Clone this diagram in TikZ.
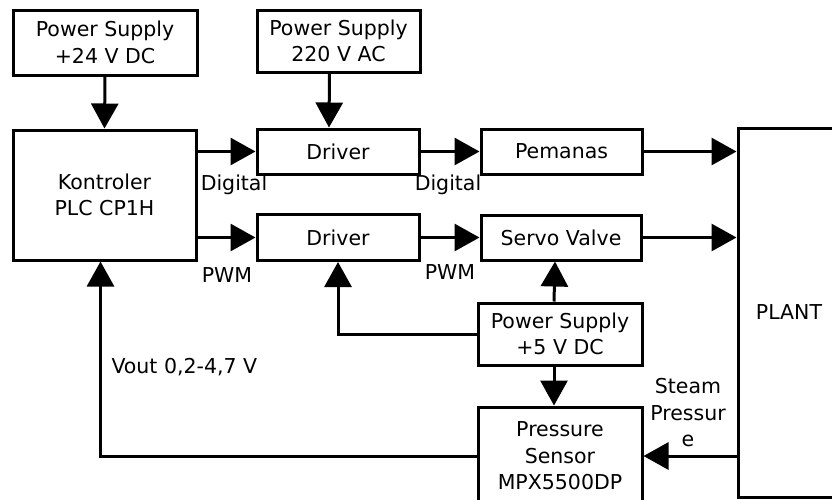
\documentclass[tikz,border=0pt]{standalone}
\usepackage{fontspec}
\setmainfont{DejaVu Sans}
\usepackage{tikz}
\usetikzlibrary{arrows.meta}

\begin{document}
\begin{tikzpicture}[x=1pt, y=-1pt, line width=3pt,
  box/.style={draw, rectangle, inner sep=0pt, align=center, font=\fontsize{20.5}{26.5}\selectfont},
  lbl/.style={inner sep=0pt, align=center, font=\fontsize{20.5}{26.5}\selectfont},
  arr/.style={-{Triangle[length=25pt, width=27pt]}}]
\useasboundingbox (0,0) rectangle (832,499);
\node[box, minimum width=184, minimum height=65] (ps24) at (105,42.5) {Power Supply\\+24 V DC};
\node[box, minimum width=163, minimum height=62] (ps220) at (338.5,41) {Power Supply\\220 V AC};
\node[box, minimum width=183, minimum height=130] (ctrl) at (104.5,195) {Kontroler\\PLC CP1H};
\node[box, minimum width=162, minimum height=45] (drv1) at (338,151.5) {Driver};
\node[box, minimum width=162, minimum height=46] (drv2) at (338,237.5) {Driver};
\node[box, minimum width=161, minimum height=45] (heat) at (561.5,151.5) {Pemanas};
\node[box, minimum width=160, minimum height=45] (servo) at (561,237.5) {Servo Valve};
\node[box, minimum width=102, minimum height=369] (plant) at (789,312.5) {PLANT};
\node[box, minimum width=164, minimum height=62] (ps5) at (560,334) {Power Supply\\+5 V DC};
\node[box, minimum width=164, minimum height=98] (sensor) at (560,456) {Pressure\\Sensor\\MPX5500DP};
\node[lbl] (dig1) at (234,185) {Digital};
\node[lbl] (dig2) at (448,185) {Digital};
\node[lbl] (pwm1) at (227,275) {PWM};
\node[lbl] (pwm2) at (450,272) {PWM};
\node[lbl, anchor=west] (vout) at (110,367) {Vout 0,2-4,7 V};
\node[lbl] (steam) at (688,413) {Steam\\Pressur\\e};
\draw[arr] (ps24.south) -- (ctrl.north);
\draw[arr] ([xshift=-9pt]ps220.south) -- ([xshift=-9pt]drv1.north);
\draw[arr] (ctrl.east |- drv1.west) -- (drv1.west);
\draw[arr] (ctrl.east |- drv2.west) -- (drv2.west);
\draw[arr] (drv1.east) -- (heat.west);
\draw[arr] (drv2.east) -- (servo.west);
\draw[arr] (heat.east) -- (heat.east -| plant.west);
\draw[arr] (servo.east) -- (servo.east -| plant.west);
\draw[arr] ([xshift=-6pt]ps5.north) -- ([xshift=-6pt]servo.south);
\draw[arr] ([xshift=-6pt]ps5.south) -- ([xshift=-6pt]sensor.north);
\draw[arr] (ps5.west) -- (drv2.south |- ps5.west) -- (drv2.south);
\draw[arr] (sensor.east -| plant.west) -- (sensor.east);
\draw[arr] (sensor.west) -- ([xshift=-4pt]ctrl.south |- sensor.west) -- ([xshift=-4pt]ctrl.south);
\end{tikzpicture}
\end{document}
